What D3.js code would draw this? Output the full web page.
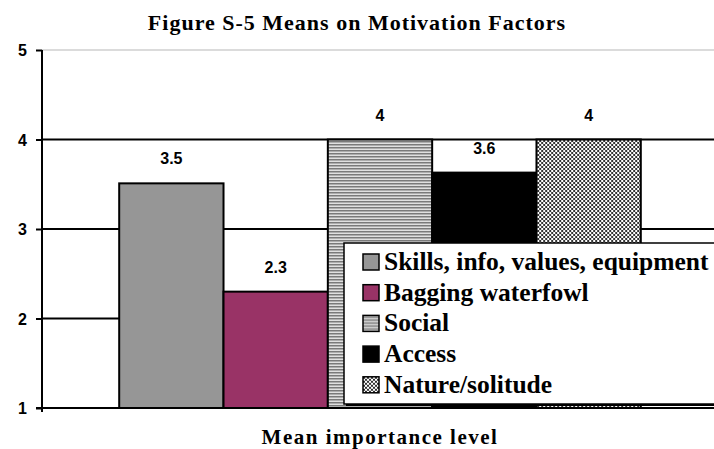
<!DOCTYPE html>
<html>
<head>
<meta charset="utf-8">
<script src="https://cdn.jsdelivr.net/npm/d3@7"></script>
<style>
  html, body { margin: 0; padding: 0; background: #fff; }
  svg { display: block; }
  .serif { font-family: 'Liberation Serif', 'Times New Roman', 'DejaVu Serif', serif; font-weight: bold; }
  .sans { font-family: 'Liberation Sans', Arial, sans-serif; font-weight: bold; }
</style>
</head>
<body>
<svg id="chart" width="714" height="449"></svg>
<script>
const title = "Figure S-5 Means on Motivation Factors";
const xTitle = "Mean importance level";
const groups = ["Mean importance level"];
const series = ["Skills, info, values, equipment", "Bagging waterfowl", "Social", "Access", "Nature/solitude"];
const values = [3.51, 2.3, 4.0, 3.63, 4.0];
const yTicks = [1, 2, 3, 4, 5];

(function () {
const svg = d3.select("#chart");
const defs = svg.append("defs");

// patterns
const pStripe = defs.append("pattern").attr("id", "stripes")
  .attr("patternUnits", "userSpaceOnUse").attr("width", 4).attr("height", 3);
pStripe.append("rect").attr("width", 4).attr("height", 3).attr("fill", "#e0e0e0");
pStripe.append("rect").attr("width", 4).attr("height", 1.5).attr("fill", "#7a7a7a");

const pCheck = defs.append("pattern").attr("id", "checker")
  .attr("patternUnits", "userSpaceOnUse").attr("width", 4).attr("height", 4);
pCheck.append("rect").attr("width", 4).attr("height", 4).attr("fill", "#ffffff");
pCheck.append("rect").attr("width", 2).attr("height", 2).attr("fill", "#333");
pCheck.append("rect").attr("x", 2).attr("y", 2).attr("width", 2).attr("height", 2).attr("fill", "#333");

const fills = ["#969696", "#993366", "url(#stripes)", "#000000", "url(#checker)"];

const mLeft = 42, mRight = 718, mTop = 50, mBottom = 408;

const y = d3.scaleLinear().domain([1, 5]).range([mBottom, mTop]);
const x0 = d3.scaleBand().domain(groups).range([mLeft, mRight]).paddingInner(0).paddingOuter(0.148);
const x1 = d3.scaleBand().domain(series).range([0, x0.bandwidth()]).padding(0);

// title
svg.append("text").attr("class", "serif").attr("x", 357).attr("y", 30).attr("text-anchor", "middle")
  .attr("font-size", 22).attr("letter-spacing", 1).text(title);

// gridlines
svg.append("g").selectAll("line").data(yTicks.filter(d => d > 1)).join("line")
  .attr("x1", mLeft).attr("x2", 714)
  .attr("y1", d => y(d)).attr("y2", d => y(d))
  .attr("stroke", d => d === 5 ? "#cfcfcf" : "#000")
  .attr("stroke-width", d => d === 5 ? 1.5 : 2);

// bars
const g = svg.append("g").attr("transform", `translate(${x0(groups[0])},0)`);
g.selectAll("rect").data(series).join("rect")
  .attr("x", d => x1(d)).attr("width", x1.bandwidth())
  .attr("y", (d, i) => y(values[i])).attr("height", (d, i) => y(1) - y(values[i]))
  .attr("fill", (d, i) => fills[i]).attr("stroke", "#000").attr("stroke-width", 2);

const fmt = d3.format(".2~r");
g.selectAll("text").data(series).join("text").attr("class", "sans")
  .attr("x", d => x1(d) + x1.bandwidth() / 2)
  .attr("y", (d, i) => y(values[i]) - 19)
  .attr("text-anchor", "middle")
  .attr("font-size", 16).text((d, i) => fmt(values[i]));

// y axis
const yAxis = d3.axisLeft(y).tickValues(yTicks).tickSize(6).tickPadding(9).tickFormat(d3.format("d"));
const ya = svg.append("g").attr("transform", `translate(${mLeft},0)`).call(yAxis);
ya.select(".domain").remove();
ya.selectAll(".tick line").attr("stroke", "#000").attr("stroke-width", 2);
ya.selectAll(".tick text").attr("class", "sans").attr("font-size", 16).attr("fill", "#000").attr("dy", "0.36em");
ya.attr("font-family", null);
svg.append("line").attr("x1", mLeft).attr("x2", mLeft).attr("y1", mTop).attr("y2", mBottom + 4)
  .attr("stroke", "#000").attr("stroke-width", 2);
svg.append("line").attr("x1", mLeft - 6).attr("x2", 714).attr("y1", mBottom).attr("y2", mBottom)
  .attr("stroke", "#000").attr("stroke-width", 2);

// legend
const lgX = 344, lgY = 243, lgW = 380, lgH = 161;
svg.append("rect").attr("x", lgX + 2).attr("y", lgY + 2).attr("width", lgW).attr("height", lgH).attr("fill", "#000");
svg.append("rect").attr("x", lgX).attr("y", lgY).attr("width", lgW).attr("height", lgH)
  .attr("fill", "#fff").attr("stroke", "#000").attr("stroke-width", 1.5);
const lg = svg.append("g");
const items = lg.selectAll("g").data(series).join("g")
  .attr("transform", (d, i) => `translate(${lgX + 19},${lgY + 27 + i * 30.7})`);
items.append("rect").attr("x", 0).attr("y", -16).attr("width", 16).attr("height", 16)
  .attr("fill", (d, i) => fills[i]).attr("stroke", "#000").attr("stroke-width", 1.5);
items.append("text").attr("class", "serif").attr("x", 21).attr("y", 0)
  .attr("font-size", 25.5).text(d => d);

// x axis title
svg.append("text").attr("class", "serif").attr("x", 380).attr("y", 444).attr("text-anchor", "middle")
  .attr("font-size", 21).attr("letter-spacing", 1.5).text(xTitle);
})();
</script>
</body>
</html>
